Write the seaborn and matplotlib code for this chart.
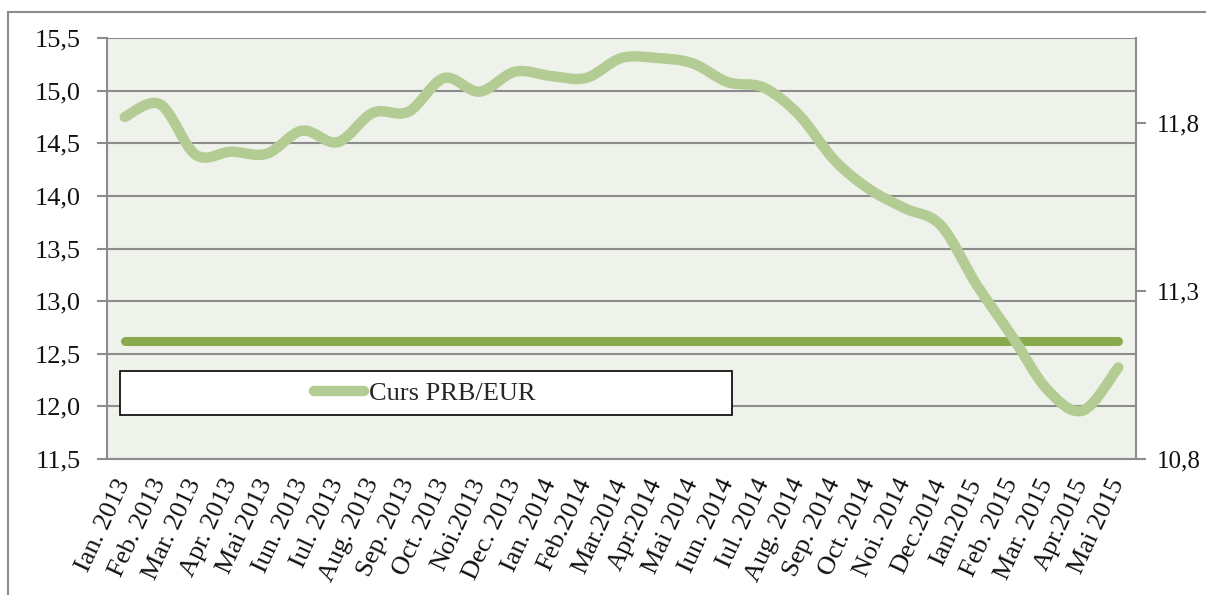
"""Curs PRB/EUR, Ian. 2013 - Mai 2015, smoothed line + constant reference line."""
import numpy as np
import matplotlib
matplotlib.use("Agg")
import matplotlib.pyplot as plt
from matplotlib.path import Path
from matplotlib.patches import PathPatch, Rectangle
from matplotlib.lines import Line2D
from matplotlib.ticker import FuncFormatter, FixedLocator
import seaborn as sns

months = ["Ian. 2013", "Feb. 2013", "Mar. 2013", "Apr. 2013", "Mai 2013", "Iun. 2013",
          "Iul. 2013", "Aug. 2013", "Sep. 2013", "Oct. 2013", "Noi.2013", "Dec. 2013",
          "Ian. 2014", "Feb.2014", "Mar.2014", "Apr.2014", "Mai 2014", "Iun. 2014",
          "Iul. 2014", "Aug. 2014", "Sep. 2014", "Oct. 2014", "Noi. 2014", "Dec.2014",
          "Ian.2015", "Feb. 2015", "Mar. 2015", "Apr.2015", "Mai 2015"]
curs = [14.75, 14.87, 14.39, 14.42, 14.40, 14.62, 14.51, 14.79, 14.80, 15.12,
        14.99, 15.18, 15.14, 15.12, 15.31, 15.31, 15.26, 15.08, 15.03, 14.77,
        14.34, 14.06, 13.88, 13.72, 13.16, 12.67, 12.16, 11.96, 12.37]
prag = [11.15] * len(months)   # secondary axis constant
left_ticks = [11.5, 12.0, 12.5, 13.0, 13.5, 14.0, 14.5, 15.0, 15.5]
right_ticks = [10.8, 11.3, 11.8]

LIGHT = "#B3CC93"
DARK = "#8AA84E"
GRID = "#8C8C8C"
FS = 19

sns.set_theme(style="white")
plt.rcParams["font.family"] = ["Liberation Serif", "DejaVu Serif"]
plt.rcParams["font.size"] = FS


def smooth_path(xs, ys):
    """Catmull-Rom style bezier like Excel's smoothed line."""
    verts = [(xs[0], ys[0])]
    codes = [Path.MOVETO]
    n = len(xs)
    for i in range(n - 1):
        x0, y0 = (xs[i - 1], ys[i - 1]) if i > 0 else (xs[i], ys[i])
        x1, y1 = xs[i], ys[i]
        x2, y2 = xs[i + 1], ys[i + 1]
        x3, y3 = (xs[i + 2], ys[i + 2]) if i + 2 < n else (x2, y2)
        t = 1 / 6
        verts += [(x1 + (x2 - x0) * t, y1 + (y2 - y0) * t),
                  (x2 - (x3 - x1) * t, y2 - (y3 - y1) * t),
                  (x2, y2)]
        codes += [Path.CURVE4] * 3
    return Path(verts, codes)


fig = plt.figure(figsize=(12.06, 5.95), dpi=100)
# outer chart border
fig.patches.append(Rectangle((8 / 1206, -0.1), 1.2, 1.1 - 12 / 595, transform=fig.transFigure,
                             fill=False, edgecolor="#8C8C8C", linewidth=1.5))
ax = fig.add_axes([107 / 1206, 1 - 459 / 595, 1029 / 1206, 421 / 595])
ax.set_facecolor("#EFF2EA")
x = np.arange(len(months))

ax.set_xlim(-0.5, len(months) - 0.5)
ax.set_ylim(11.5, 15.5)
ax.yaxis.set_major_locator(FixedLocator(left_ticks))
comma = FuncFormatter(lambda v, p: f"{v:.1f}".replace(".", ","))
ax.yaxis.set_major_formatter(comma)
ax.grid(axis="y", color=GRID, linewidth=1.5)
ax.set_axisbelow(True)

ax.set_xticks(x)
ax.set_xticklabels(months, rotation=65, ha="right", va="center", rotation_mode="anchor")
ax.set_xticks(np.arange(-0.5, len(months)), minor=True)
ax.tick_params(axis="x", which="major", length=0, pad=15, labelsize=FS, labelcolor="#111111")
ax.tick_params(axis="x", which="minor", length=7, width=1.5, color=GRID, direction="out")
ax.tick_params(axis="y", length=7, width=1.5, color=GRID, direction="out", pad=12,
               labelsize=FS, labelcolor="#111111")
for s in ["left", "bottom", "right", "top"]:
    ax.spines[s].set_color(GRID)
    ax.spines[s].set_linewidth(1.5)
ax.spines["top"].set_visible(False)

ax2 = ax.twinx()
ax2.set_ylim(10.8, 12.053)
ax2.yaxis.set_major_locator(FixedLocator(right_ticks))
ax2.yaxis.set_major_formatter(comma)
ax2.tick_params(axis="y", length=7, width=1.5, color=GRID, direction="out", pad=8,
                labelsize=18, labelcolor="#111111")
for s in ["left", "bottom", "right", "top"]:
    ax2.spines[s].set_visible(False)
ax2.grid(False)

sns.lineplot(x=x, y=prag, ax=ax2, color=DARK, linewidth=6.5, solid_capstyle="round", legend=False)

patch = PathPatch(smooth_path(x, curs), facecolor="none", edgecolor=LIGHT, linewidth=7.5,
                  capstyle="round", joinstyle="round", zorder=3)
ax2.add_patch(patch)
patch.set_transform(ax.transData)

# legend box
ax2.add_patch(Rectangle((13 / 1029, 44 / 421), 612 / 1029, 44 / 421, transform=ax.transAxes,
                        facecolor="white", edgecolor="black", linewidth=1.2, zorder=5))
handle = Line2D([], [], color=LIGHT, linewidth=7.5, solid_capstyle="round")
leg = ax2.legend([handle], ["Curs PRB/EUR"], loc="center", bbox_to_anchor=(318 / 1029, 66 / 421),
                 frameon=False, handlelength=1.9, handletextpad=0.2, fontsize=FS)
leg.set_zorder(6)

fig.savefig("out.png", dpi=100)
